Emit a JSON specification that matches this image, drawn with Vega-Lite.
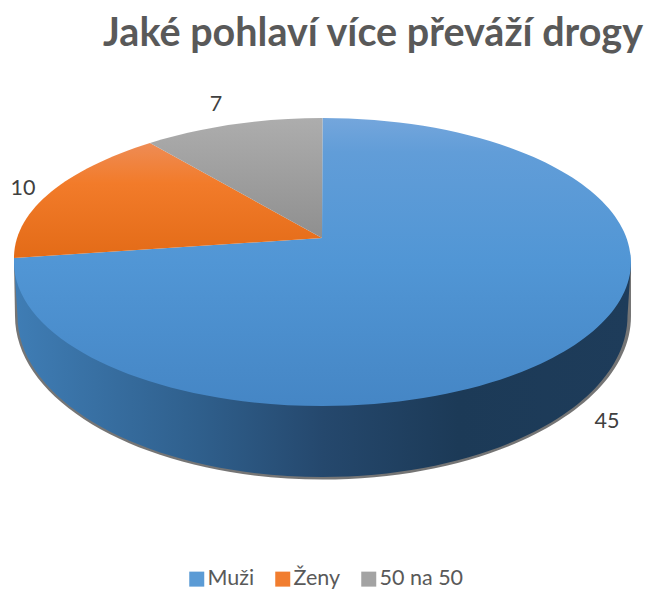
{
  "$schema": "https://vega.github.io/schema/vega-lite/v6.json",
  "width": 649,
  "height": 591,
  "autosize": {"type": "none"},
  "padding": 0,
  "background": "white",
  "config": {"view": {"stroke": null}, "font": "Lato"},
  "title": {"text": "Jaké pohlaví více převáží drogy", "anchor": "end", "frame": "group", "offset": -54, "dx": -6, "fontSize": 39.5, "fontWeight": "bold", "color": "#595959", "font": "Lato"},
  "data": {"values": [
    {"pohlavi": "Muži", "pocet": 45},
    {"pohlavi": "Ženy", "pocet": 10},
    {"pohlavi": "50 na 50", "pocet": 7}
  ]},
  "layer": [
    {
      "transform": [{"filter": "datum.pohlavi === 'Muži'"}],
      "mark": {"type": "point", "filled": true, "opacity": 0.7, "fill": "#3a3a3a", "shape": "M -3.105 -0.335 L -3.095 0.205 C -3.095 1.105 -1.72 1.84 -0.02 1.84 C 1.68 1.84 3.065 1.105 3.065 0.205 L 3.065 -0.335 Z", "size": 40000},
      "encoding": {}
    },
    {
      "transform": [{"filter": "datum.pohlavi === 'Muži'"}],
      "mark": {"type": "point", "filled": true, "opacity": 1, "shape": "M -3.105 -0.335 L -3.07 0.205 C -3.07 1.094 -1.705 1.815 -0.02 1.815 C 1.665 1.815 3.03 1.094 3.03 0.205 L 3.065 -0.335 Z", "size": 40000,
        "fill": {"gradient": "linear", "x1": 0, "y1": 0, "x2": 1, "y2": 0, "stops": [
          {"offset": 0, "color": "#3f7db5"},
          {"offset": 0.3, "color": "#2f5f8c"},
          {"offset": 0.5, "color": "#25486d"},
          {"offset": 0.72, "color": "#1c3a57"},
          {"offset": 1, "color": "#1e3c5a"}
        ]}},
      "encoding": {}
    },
    {
      "mark": {"type": "point", "filled": true, "opacity": 1, "size": 100},
      "encoding": {
        "color": {
          "field": "pohlavi", "type": "nominal", "title": null,
          "scale": {
            "domain": ["Muži", "Ženy", "50 na 50"],
            "range": ["#5b9bd5", "#f17d2f", "#a3a3a3"]
          },
          "legend": {"orient": "none", "legendX": 186, "legendY": 568, "direction": "horizontal", "symbolType": "square", "symbolSize": 225, "symbolStrokeWidth": 0, "symbolOpacity": 1, "labelFontSize": 21.5, "labelColor": "#595959", "labelFont": "Lato", "labelOffset": 0, "columnPadding": 17}
        }
      }
    },
    {
      "transform": [{"filter": "datum.pohlavi === 'Muži'"}],
      "mark": {"type": "point", "filled": true, "opacity": 1, "size": 40000,
        "shape": "M -0.025 -0.575 L -0.02 -1.775 C 1.684 -1.775 3.065 -1.13 3.065 -0.335 C 3.065 0.46 1.684 1.105 -0.02 1.105 C -1.724 1.105 -3.105 0.46 -3.105 -0.335 L -3.105 -0.375 Z",
        "fill": {"gradient": "linear", "x1": 0, "y1": 0, "x2": 0, "y2": 1, "stops": [{"offset": 0, "color": "#74a6dc"}, {"offset": 0.12, "color": "#619dd8"}, {"offset": 0.5, "color": "#5196d5"}, {"offset": 1, "color": "#4586c5"}]}},
      "encoding": {}
    },
    {
      "transform": [{"filter": "datum.pohlavi === 'Ženy'"}],
      "mark": {"type": "point", "filled": true, "opacity": 1, "size": 40000,
        "shape": "M -0.025 -0.575 L -3.105 -0.375 C -3.105 -0.853 -2.594 -1.258 -1.745 -1.525 Z",
        "fill": {"gradient": "linear", "x1": 0, "y1": 0, "x2": 0, "y2": 1, "stops": [{"offset": 0, "color": "#ee8c55"}, {"offset": 0.35, "color": "#f27b2a"}, {"offset": 1, "color": "#e36b17"}]}},
      "encoding": {}
    },
    {
      "transform": [{"filter": "datum.pohlavi === '50 na 50'"}],
      "mark": {"type": "point", "filled": true, "opacity": 1, "size": 40000,
        "shape": "M -0.025 -0.575 L -1.745 -1.525 C -1.235 -1.685 -0.635 -1.775 -0.02 -1.775 Z",
        "fill": {"gradient": "linear", "x1": 0, "y1": 0, "x2": 0, "y2": 1, "stops": [{"offset": 0, "color": "#adadad"}, {"offset": 1, "color": "#8f8f8f"}]}},
      "encoding": {}
    },
    {
      "transform": [{"filter": "datum.pohlavi === 'Muži'"}],
      "mark": {"type": "text", "fontSize": 21.5, "color": "#404040", "align": "center", "baseline": "middle", "dx": 282.5, "dy": 126.5, "font": "Lato"},
      "encoding": {"text": {"field": "pocet", "type": "quantitative"}}
    },
    {
      "transform": [{"filter": "datum.pohlavi === 'Ženy'"}],
      "mark": {"type": "text", "fontSize": 21.5, "color": "#404040", "align": "center", "baseline": "middle", "dx": -301.5, "dy": -106.5, "font": "Lato"},
      "encoding": {"text": {"field": "pocet", "type": "quantitative"}}
    },
    {
      "transform": [{"filter": "datum.pohlavi === '50 na 50'"}],
      "mark": {"type": "text", "fontSize": 21.5, "color": "#404040", "align": "center", "baseline": "middle", "dx": -108.5, "dy": -190.5, "font": "Lato"},
      "encoding": {"text": {"field": "pocet", "type": "quantitative"}}
    }
  ]
}
